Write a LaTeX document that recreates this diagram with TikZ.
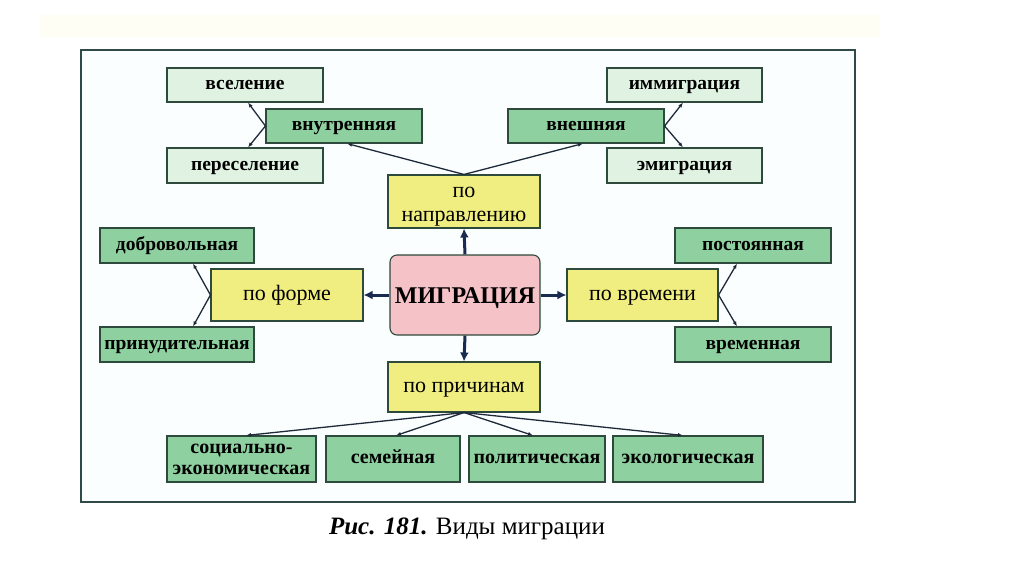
\documentclass[tikz,border=0pt]{standalone}
\usepackage{fontspec}
\setmainfont{Liberation Serif}
\usetikzlibrary{arrows.meta}
\definecolor{bordc}{HTML}{2E4A3C}
\definecolor{palegreen}{HTML}{E0F3E3}
\definecolor{midgreen}{HTML}{8FD0A0}
\definecolor{yel}{HTML}{F0EE80}
\definecolor{pinkc}{HTML}{F5C2C7}
\definecolor{linec}{HTML}{1E2A3A}
\definecolor{navy}{HTML}{1A2A50}
\definecolor{framec}{HTML}{2F4A48}
\definecolor{framefill}{HTML}{FBFEFE}
\tikzset{
  box/.style={draw=bordc, line width=1.1pt, inner sep=1pt, align=center, text=black},
  gline/.style={text height=13pt, text depth=4pt},
  yline/.style={text height=15pt, text depth=5pt},
  pale/.style={box, gline, fill=palegreen, font=\fontsize{19.5}{21}\selectfont\bfseries},
  mid/.style={box, gline, fill=midgreen, font=\fontsize{19.5}{21}\selectfont\bfseries},
  midb/.style={box, fill=midgreen, font=\fontsize{20}{20}\selectfont\bfseries},
  yelbox/.style={box, fill=yel, font=\fontsize{22}{22}\selectfont},
  conn/.style={draw=linec, line width=1.3pt, -{Latex[length=5pt,width=4pt]}},
  bigarrow/.style={draw=navy, line width=3pt, -{Latex[length=9pt,width=9pt]}}
}
\begin{document}
\begin{tikzpicture}[x=1pt,y=-1pt]
\useasboundingbox (0,0) rectangle (1024,574);
\fill[white] (0,0) rectangle (1024,574);
\fill[fill=yellow!4] (40,15) rectangle (880,37);
\draw[draw=framec, line width=1.4pt, fill=framefill] (81,50) rectangle (855,502);

% top
\node[pale, minimum width=156pt, minimum height=34pt] (vsel) at (245,85) {вселение};
\node[mid, minimum width=156pt, minimum height=34pt] (vnutr) at (344,126) {внутренняя};
\node[pale, minimum width=156pt, minimum height=35pt] (peres) at (245,165.5) {переселение};
\node[mid, minimum width=156pt, minimum height=34pt] (vnesh) at (586,126) {внешняя};
\node[pale, minimum width=155pt, minimum height=34pt] (immig) at (684.5,85) {иммиграция};
\node[pale, minimum width=155pt, minimum height=35pt] (emig) at (684.5,165.5) {эмиграция};
\node[yelbox, minimum width=152pt, minimum height=53pt] (napr) at (464,201.5) {\rule{0pt}{20pt}по\\[2pt]направлению};

% middle
\node[mid, minimum width=154pt, minimum height=35pt] (dobr) at (177,245.5) {добровольная};
\node[yelbox, yline, minimum width=152pt, minimum height=52pt] (forme) at (287,295) {по форме};
\node[mid, minimum width=154pt, minimum height=35pt] (prin) at (177,344.5) {принудительная};
\node[box, text height=18pt, text depth=2pt, fill=pinkc, rounded corners=7pt, minimum width=150pt, minimum height=80pt, font=\fontsize{24}{26}\selectfont\bfseries] (migr) at (465,295) {МИГРАЦИЯ};
\node[yelbox, yline, minimum width=151pt, minimum height=52pt] (vrem) at (642.5,295) {по времени};
\node[mid, minimum width=156pt, minimum height=35pt] (post) at (753,245.5) {постоянная};
\node[mid, minimum width=156pt, minimum height=35pt] (vremen) at (753,344.5) {временная};

% bottom
\node[yelbox, yline, minimum width=152pt, minimum height=50pt] (prich) at (464,387) {по причинам};
\node[midb, minimum width=149pt, minimum height=46pt] (sots) at (241.5,459) {социально-\\[1pt]экономическая};
\node[midb, gline, minimum width=134pt, minimum height=46pt] (sem) at (393,459) {семейная};
\node[midb, gline, minimum width=136pt, minimum height=46pt] (pol) at (537,459) {политическая};
\node[midb, gline, minimum width=150pt, minimum height=46pt] (eco) at (688,459) {экологическая};

% caption
\node[font=\fontsize{25}{27}\selectfont] (cap) at (467,529) {\textbf{\textit{Рис. 181.}} Виды миграции};

% big arrows
\draw[bigarrow] (migr.north) -- (napr.south);
\draw[bigarrow] (migr.west) -- (forme.east);
\draw[bigarrow] (migr.east) -- (vrem.west);
\draw[bigarrow] (migr.south) -- (prich.north);

% thin connectors
\draw[conn] (napr.north) -- ([xshift=3pt]vnutr.south);
\draw[conn] (napr.north) -- ([xshift=-3pt]vnesh.south);
\draw[conn] (vnutr.west) -- ([xshift=3pt]vsel.south);
\draw[conn] (vnutr.west) -- ([xshift=3pt]peres.north);
\draw[conn] (vnesh.east) -- ([xshift=-1.5pt]immig.south);
\draw[conn] (vnesh.east) -- ([xshift=-1.5pt]emig.north);
\draw[conn] (forme.west) -- ([xshift=16pt]dobr.south);
\draw[conn] (forme.west) -- ([xshift=16pt]prin.north);
\draw[conn] (vrem.east) -- ([xshift=-16pt]post.south);
\draw[conn] (vrem.east) -- ([xshift=-16pt]vremen.north);
\draw[conn] (prich.south) -- ([xshift=4.5pt]sots.north);
\draw[conn] (prich.south) -- ([xshift=3pt]sem.north);
\draw[conn] (prich.south) -- ([xshift=-4pt]pol.north);
\draw[conn] (prich.south) -- ([xshift=-5pt]eco.north);
\end{tikzpicture}
\end{document}
